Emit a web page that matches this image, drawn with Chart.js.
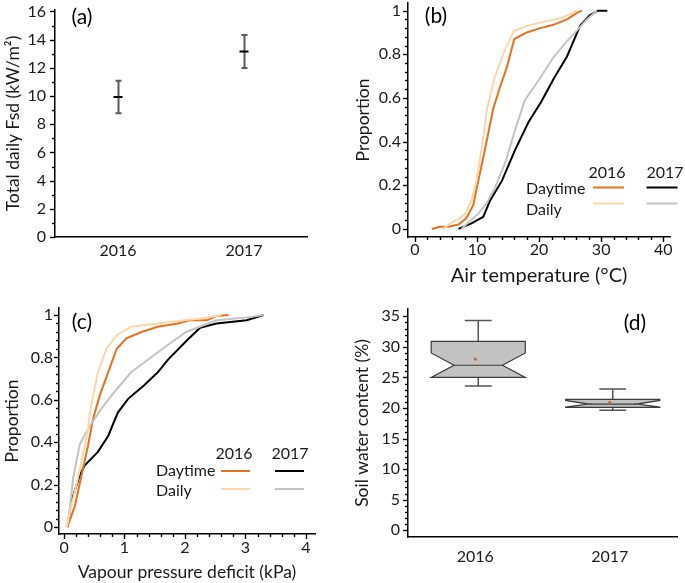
<!DOCTYPE html>
<html>
<head>
<meta charset="utf-8">
<script src="https://cdn.jsdelivr.net/npm/chart.js@4.4.1/dist/chart.umd.min.js"></script>
<style>
  html, body { margin: 0; padding: 0; background: #fff; }
  #wrap { position: relative; width: 685px; height: 583px; overflow: hidden; }
  canvas { position: absolute; }
</style>
</head>
<body>
<div id="wrap">
  <canvas id="chartA" width="340" height="290" style="left:0;top:0;width:340px;height:290px"></canvas>
  <canvas id="chartB" width="345" height="290" style="left:340px;top:0;width:345px;height:290px"></canvas>
  <canvas id="chartC" width="340" height="293" style="left:0;top:290px;width:340px;height:293px"></canvas>
  <canvas id="chartD" width="345" height="293" style="left:340px;top:290px;width:345px;height:293px"></canvas>
</div>
<script>
// ---- data ----
const years = ["2016", "2017"];

// (a) total daily Fsd, mean and error bar limits
const fsdMean = [9.93, 13.15];
const fsdLow = [8.77, 11.98];
const fsdHigh = [11.08, 14.33];
const fsdTicks = [0, 2, 4, 6, 8, 10, 12, 14, 16];

// (b) air temperature, cumulative proportion
const tempDay2016X = [2.7, 4.0, 5.4, 7.0, 8.3, 9.4, 9.9, 10.8, 11.6, 12.6, 13.7, 14.8, 16.0, 18.0, 20.2, 22.3, 24.5, 26.1, 26.9];
const tempDay2016P = [0, 0.01, 0.01, 0.02, 0.05, 0.11, 0.18, 0.30, 0.41, 0.55, 0.65, 0.74, 0.87, 0.90, 0.92, 0.935, 0.96, 0.99, 1.0];
const tempAll2016X = [4.5, 5.9, 7.0, 8.1, 9.1, 9.9, 10.8, 11.6, 12.9, 14.5, 15.9, 18.0, 20.2, 23.4, 25.5, 26.0];
const tempAll2016P = [0, 0.03, 0.045, 0.07, 0.13, 0.22, 0.38, 0.55, 0.70, 0.82, 0.905, 0.93, 0.945, 0.965, 0.99, 1.0];
const tempDay2017X = [7.0, 9.1, 11.0, 12.1, 14.0, 16.1, 18.3, 20.3, 22.4, 24.5, 26.6, 28.2, 29.5, 31.0];
const tempDay2017P = [0, 0.025, 0.055, 0.13, 0.22, 0.36, 0.49, 0.58, 0.69, 0.79, 0.93, 0.98, 1.0, 1.0];
const tempAll2017X = [7.5, 8.6, 10.2, 11.6, 12.9, 14.5, 16.1, 17.7, 19.9, 22.4, 24.5, 25.5, 27.7, 29.3];
const tempAll2017P = [0, 0.03, 0.07, 0.12, 0.19, 0.30, 0.45, 0.59, 0.68, 0.79, 0.86, 0.89, 0.96, 1.0];
const tempTicks = [0, 10, 20, 30, 40];

// (c) vapour pressure deficit, cumulative proportion
const vpdDay2016X = [0.055, 0.18, 0.29, 0.40, 0.48, 0.59, 0.73, 0.87, 1.03, 1.28, 1.55, 1.88, 2.08, 2.36, 2.52, 2.72];
const vpdDay2016P = [0, 0.10, 0.245, 0.39, 0.51, 0.62, 0.73, 0.84, 0.89, 0.92, 0.945, 0.96, 0.975, 0.975, 0.995, 1.0];
const vpdAll2016X = [0.04, 0.07, 0.23, 0.37, 0.45, 0.56, 0.70, 0.87, 1.11, 1.55, 1.99, 2.3, 2.6];
const vpdAll2016P = [0, 0.04, 0.23, 0.42, 0.575, 0.73, 0.84, 0.905, 0.945, 0.96, 0.975, 0.985, 1.0];
const vpdDay2017X = [0.055, 0.12, 0.26, 0.34, 0.56, 0.73, 0.89, 1.06, 1.33, 1.55, 1.72, 2.03, 2.25, 2.52, 3.02, 3.30];
const vpdDay2017P = [0, 0.12, 0.245, 0.29, 0.355, 0.43, 0.54, 0.605, 0.67, 0.73, 0.79, 0.88, 0.94, 0.96, 0.975, 1.0];
const vpdAll2017X = [0.04, 0.07, 0.15, 0.26, 0.40, 0.62, 0.84, 1.11, 1.39, 1.72, 2.02, 2.52, 3.07, 3.3];
const vpdAll2017P = [0, 0.025, 0.23, 0.39, 0.465, 0.56, 0.64, 0.73, 0.79, 0.86, 0.92, 0.975, 0.99, 1.0];
const vpdTicks = [0, 1, 2, 3, 4];
const propTicks = [0, 0.2, 0.4, 0.6, 0.8, 1];

// (d) soil water content, notched box plot
const swcQ1 = [25.0, 20.1];
const swcQ3 = [30.9, 21.4];
const swcMedian = [27.0, 20.65];
const swcNotchLow = [25.0, 20.15];
const swcNotchHigh = [29.0, 21.25];
const swcWhiskLow = [23.6, 19.65];
const swcWhiskHigh = [34.3, 23.1];
const swcMean = [28.0, 20.9];
const swcTicks = [0, 5, 10, 15, 20, 25, 30, 35];

// ---- colours ----
const ORANGE = "#e8701e";
const PEACH = "#fcd7ab";
const BLACK = "#000000";
const GREY = "#c3c3c3";

Chart.defaults.font.family = "Lato, 'Open Sans', sans-serif";
Chart.defaults.font.size = 16;
Chart.defaults.color = "#1a1a1a";
Chart.defaults.animation = false;
Chart.defaults.plugins.legend.display = false;
Chart.defaults.plugins.tooltip.enabled = false;

// 固定坐标轴尺寸，方便对齐
function fixY(width) {
  return (s) => { s.width = width; s.paddingTop = 0; s.paddingBottom = 0; };
}
function fixX(height) {
  return (s) => { s.height = height; s.paddingLeft = 0; s.paddingRight = 0; };
}
function setTicks(values) {
  return (s) => { s.ticks = values.map((v) => ({ value: v })); };
}
function pts(xs, ps) {
  return xs.map((x, i) => ({ x: x, y: ps[i] }));
}

// major + minor tick marks drawn outside the axes
function tickMarks(specs) {
  return {
    id: "tickMarks",
    afterDraw(chart) {
      const ctx = chart.ctx;
      ctx.save();
      ctx.strokeStyle = "#000";
      ctx.lineWidth = 1.4;
      specs.forEach((sp) => {
        const s = chart.scales[sp.id];
        const n = Math.round((sp.to - sp.from) / sp.step);
        for (let i = 0; i <= n; i++) {
          const v = sp.from + i * sp.step;
          const major = s.ticks.some((t) => Math.abs(t.value - v) < 1e-6);
          const len = major ? 5 : 3;
          const p = Math.round(s.getPixelForValue(v)) + 0.5;
          ctx.beginPath();
          if (s.isHorizontal()) {
            ctx.moveTo(p, s.top);
            ctx.lineTo(p, s.top + len);
          } else {
            ctx.moveTo(s.right, p);
            ctx.lineTo(s.right - len, p);
          }
          ctx.stroke();
        }
      });
      ctx.restore();
    }
  };
}

function panelLabel(text, x, y) {
  return {
    id: "panelLabel",
    afterDraw(chart) {
      const ctx = chart.ctx;
      ctx.save();
      ctx.font = "21px Lato, sans-serif";
      ctx.fillStyle = "#000";
      ctx.textAlign = "center";
      ctx.textBaseline = "middle";
      ctx.fillText(text, x, y);
      ctx.restore();
    }
  };
}

// year / series legend in two columns
function yearLegend(L) {
  return {
    id: "yearLegend",
    afterDraw(chart) {
      const ctx = chart.ctx;
      ctx.save();
      ctx.font = "16px Lato, sans-serif";
      ctx.fillStyle = "#1a1a1a";
      ctx.textBaseline = "middle";
      ctx.textAlign = "center";
      ctx.fillText(years[0], L.col1, L.head);
      ctx.fillText(years[1], L.col2, L.head);
      ctx.textAlign = "left";
      ctx.fillText("Daytime", L.textX, L.row1);
      ctx.fillText("Daily", L.textX, L.row2);
      const seg = (cx, y, col) => {
        ctx.beginPath();
        ctx.strokeStyle = col;
        ctx.lineWidth = 2;
        ctx.moveTo(cx - L.half, y);
        ctx.lineTo(cx + L.half, y);
        ctx.stroke();
      };
      seg(L.line1, L.lineY1, ORANGE);
      seg(L.line2, L.lineY1, BLACK);
      seg(L.line1, L.lineY2, PEACH);
      seg(L.line2, L.lineY2, GREY);
      ctx.restore();
    }
  };
}

function ecdfSet(xs, ps, col) {
  return { data: pts(xs, ps), borderColor: col, borderWidth: 2, pointRadius: 0, tension: 0, fill: false };
}

const axisBorder = { color: "#000", width: 1.5 };
const titleFont = { size: 17.5 };

// ---- (a) ----
new Chart(document.getElementById("chartA"), {
  type: "line",
  data: {
    labels: years,
    datasets: [{
      data: fsdMean,
      showLine: false,
      pointStyle: "line",
      pointRadius: 4.5,
      pointBorderWidth: 2,
      borderColor: "#000",
      backgroundColor: "#000"
    }]
  },
  options: {
    responsive: false,
    layout: { padding: { left: 0, right: 33, top: 10, bottom: 0 } },
    scales: {
      x: {
        type: "category",
        offset: true,
        afterFit: fixX(53),
        grid: { display: false, drawTicks: false },
        border: axisBorder,
        ticks: { padding: 4 }
      },
      y: {
        min: 0, max: 16.1,
        afterBuildTicks: setTicks(fsdTicks),
        afterFit: fixY(55),
        grid: { display: false, drawTicks: false },
        border: axisBorder,
        ticks: { padding: 9, callback: (v) => String(v) },
        title: { display: true, text: "Total daily Fsd (kW/m²)", font: titleFont, padding: { top: 2.5 } }
      }
    }
  },
  plugins: [
    {
      id: "errorBars",
      beforeDatasetsDraw(chart) {
        const { ctx, scales: { x, y } } = chart;
        ctx.save();
        ctx.strokeStyle = "#5a5a5a";
        ctx.lineWidth = 2;
        fsdLow.forEach((lo, i) => {
          const px = Math.round(x.getPixelForValue(i)) + 0.5;
          const yl = y.getPixelForValue(lo);
          const yh = y.getPixelForValue(fsdHigh[i]);
          ctx.beginPath();
          ctx.moveTo(px, yl); ctx.lineTo(px, yh);
          ctx.moveTo(px - 3, yl); ctx.lineTo(px + 3, yl);
          ctx.moveTo(px - 3, yh); ctx.lineTo(px + 3, yh);
          ctx.stroke();
        });
        ctx.restore();
      }
    },
    tickMarks([{ id: "y", from: 0, to: 16, step: 1 }]),
    panelLabel("(a)", 82, 17)
  ]
});

// ---- (b) ----
new Chart(document.getElementById("chartB"), {
  type: "line",
  data: {
    datasets: [
      ecdfSet(tempAll2016X, tempAll2016P, PEACH),
      ecdfSet(tempAll2017X, tempAll2017P, GREY),
      ecdfSet(tempDay2016X, tempDay2016P, ORANGE),
      ecdfSet(tempDay2017X, tempDay2017P, BLACK)
    ]
  },
  options: {
    responsive: false,
    layout: { padding: { left: 0, right: 15, top: 3, bottom: 0 } },
    scales: {
      x: {
        type: "linear",
        min: -1.13, max: 41.1,
        afterBuildTicks: setTicks(tempTicks),
        afterFit: fixX(53),
        grid: { display: false, drawTicks: false },
        border: axisBorder,
        ticks: { padding: 3, callback: (v) => String(v) },
        title: { display: true, text: "Air temperature (°C)", font: { size: 20 }, padding: { bottom: 2 } }
      },
      y: {
        min: -0.037, max: 1.035,
        afterBuildTicks: setTicks(propTicks),
        afterFit: fixY(68),
        grid: { display: false, drawTicks: false },
        border: axisBorder,
        ticks: { padding: 7, callback: (v) => String(v) },
        title: { display: true, text: "Proportion", font: titleFont, padding: { top: 12.5 } }
      }
    }
  },
  plugins: [
    tickMarks([
      { id: "x", from: 0, to: 40, step: 2 },
      { id: "y", from: 0, to: 1, step: 0.04 }
    ]),
    yearLegend({ col1: 267, col2: 325, head: 173, textX: 186, row1: 189, row2: 210,
                 line1: 268.5, line2: 322, half: 15.5, lineY1: 187.5, lineY2: 203.5 }),
    panelLabel("(b)", 96, 16)
  ]
});

// ---- (c) ----
new Chart(document.getElementById("chartC"), {
  type: "line",
  data: {
    datasets: [
      ecdfSet(vpdAll2016X, vpdAll2016P, PEACH),
      ecdfSet(vpdAll2017X, vpdAll2017P, GREY),
      ecdfSet(vpdDay2016X, vpdDay2016P, ORANGE),
      ecdfSet(vpdDay2017X, vpdDay2017P, BLACK)
    ]
  },
  options: {
    responsive: false,
    layout: { padding: { left: 0, right: 25, top: 18, bottom: 0 } },
    scales: {
      x: {
        type: "linear",
        min: -0.083, max: 4.15,
        afterBuildTicks: setTicks(vpdTicks),
        afterFit: fixX(49),
        grid: { display: false, drawTicks: false },
        border: axisBorder,
        ticks: { padding: 4, callback: (v) => String(v) },
        title: { display: true, text: "Vapour pressure deficit (kPa)", font: titleFont, padding: { bottom: 0 } }
      },
      y: {
        min: -0.032, max: 1.033,
        afterBuildTicks: setTicks(propTicks),
        afterFit: fixY(59),
        grid: { display: false, drawTicks: false },
        border: axisBorder,
        ticks: { padding: 6, callback: (v) => String(v) },
        title: { display: true, text: "Proportion", font: titleFont, padding: { top: 2 } }
      }
    }
  },
  plugins: [
    tickMarks([
      { id: "x", from: 0, to: 4, step: 0.2 },
      { id: "y", from: 0, to: 1, step: 0.04 }
    ]),
    yearLegend({ col1: 234, col2: 290, head: 164, textX: 156, row1: 181, row2: 201,
                 line1: 235.5, line2: 289.5, half: 14.5, lineY1: 181, lineY2: 199 }),
    panelLabel("(c)", 82, 32)
  ]
});

// ---- (d) ----
new Chart(document.getElementById("chartD"), {
  type: "line",
  data: {
    labels: years,
    datasets: [{
      data: swcMean,
      showLine: false,
      pointRadius: 1.6,
      pointBorderWidth: 0,
      backgroundColor: "#c5652c",
      borderColor: "#c5652c"
    }]
  },
  options: {
    responsive: false,
    layout: { padding: { left: 0, right: 8, top: 19, bottom: 0 } },
    scales: {
      x: {
        type: "category",
        offset: true,
        afterFit: fixX(46),
        grid: { display: false, drawTicks: false },
        border: axisBorder,
        ticks: { padding: 10 }
      },
      y: {
        min: -1.1, max: 36.2,
        afterBuildTicks: setTicks(swcTicks),
        afterFit: fixY(68),
        grid: { display: false, drawTicks: false },
        border: axisBorder,
        ticks: { padding: 8, callback: (v) => String(v) },
        title: { display: true, text: "Soil water content (%)", font: titleFont, padding: { top: 12 } }
      }
    }
  },
  plugins: [
    {
      id: "notchedBoxes",
      beforeDatasetsDraw(chart) {
        const { ctx, scales: { x, y } } = chart;
        const band = x.getPixelForValue(1) - x.getPixelForValue(0);
        const half = band * 0.35;
        const inset = band * 0.17;
        const cap = band * 0.1;
        ctx.save();
        years.forEach((_, i) => {
          const cx = x.getPixelForValue(i) + 3;
          const l = cx - half, r = cx + half;
          const q1 = y.getPixelForValue(swcQ1[i]);
          const q3 = y.getPixelForValue(swcQ3[i]);
          const md = y.getPixelForValue(swcMedian[i]);
          const nl = y.getPixelForValue(swcNotchLow[i]);
          const nh = y.getPixelForValue(swcNotchHigh[i]);
          const wl = y.getPixelForValue(swcWhiskLow[i]);
          const wh = y.getPixelForValue(swcWhiskHigh[i]);
          // whiskers
          ctx.strokeStyle = "#555";
          ctx.lineWidth = 1.5;
          ctx.beginPath();
          ctx.moveTo(cx, q3); ctx.lineTo(cx, wh);
          ctx.moveTo(cx - cap, wh); ctx.lineTo(cx + cap, wh);
          ctx.moveTo(cx, q1); ctx.lineTo(cx, wl);
          ctx.moveTo(cx - cap, wl); ctx.lineTo(cx + cap, wl);
          ctx.stroke();
          // notched box
          ctx.beginPath();
          ctx.moveTo(l, q3);
          ctx.lineTo(r, q3);
          ctx.lineTo(r, nh);
          ctx.lineTo(r - inset, md);
          ctx.lineTo(r, nl);
          ctx.lineTo(r, q1);
          ctx.lineTo(l, q1);
          ctx.lineTo(l, nl);
          ctx.lineTo(l + inset, md);
          ctx.lineTo(l, nh);
          ctx.closePath();
          ctx.fillStyle = "#c2c2c2";
          ctx.fill();
          ctx.strokeStyle = "#3c3c3c";
          ctx.lineWidth = 1.2;
          ctx.stroke();
          ctx.beginPath();
          ctx.moveTo(l + inset, md);
          ctx.lineTo(r - inset, md);
          ctx.stroke();
        });
        ctx.restore();
      }
    },
    tickMarks([{ id: "y", from: 0, to: 35, step: 1 }]),
    panelLabel("(d)", 295, 33)
  ]
});
</script>
</body>
</html>
